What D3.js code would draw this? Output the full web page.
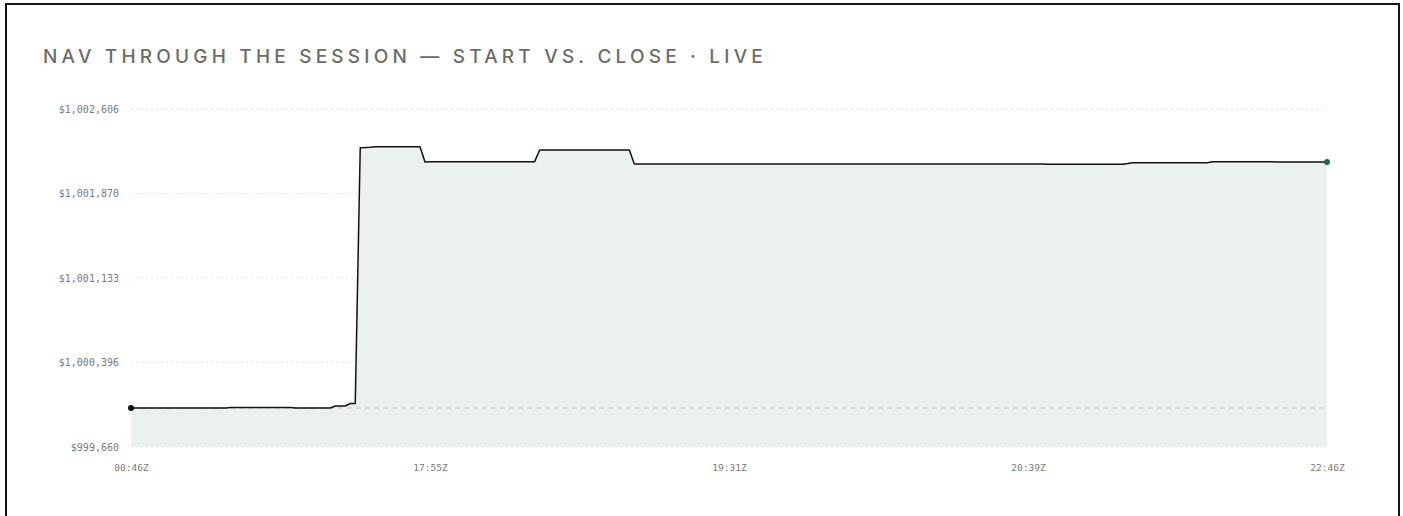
<!DOCTYPE html>
<html>
<head>
<meta charset="utf-8">
<script src="https://cdn.jsdelivr.net/npm/d3@7"></script>
<style>
    body { margin: 0; background: #fff; }
    #card {
        position: absolute; left: 5px; top: 3px;
        width: 1391px; height: 600px;
        border: 2px solid #151515;
    }
    #drawing_region { position: absolute; left: 0; top: 0; }
</style>
</head>
<body>
<div id="card"></div>
<svg id="drawing_region"></svg>
<script>
const titleText = "NAV THROUGH THE SESSION \u2014 START VS. CLOSE \u00b7 LIVE";

// y axis
const yDomain = [999660, 1002606];
const yTicks = [999660, 1000396, 1001133, 1001870, 1002606];

// x axis: sample index -> time label
const xTickIndex = [0, 60, 120, 180, 240];
const xTickLabels = ["00:46Z", "17:55Z", "19:31Z", "20:39Z", "22:46Z"];

// NAV samples through the session
const navValues = [
    1000000,1000000,1000000,1000000,1000000,1000000,1000000,1000000,1000000,1000000,
    1000000,1000000,1000000,1000000,1000000,1000000,1000000,1000000,1000000,1000000,
    1000004,1000004,1000004,1000004,1000004,1000004,1000004,1000004,1000004,1000004,
    1000004,1000004,1000004,1000000,1000000,1000000,1000000,1000000,1000000,1000000,
    1000000,1000017,1000017,1000017,1000039,1000039,1002268,1002270,1002273,1002277,
    1002277,1002277,1002277,1002277,1002277,1002277,1002277,1002277,1002277,1002145,
    1002147,1002147,1002147,1002147,1002147,1002147,1002147,1002147,1002147,1002147,
    1002147,1002147,1002147,1002147,1002147,1002147,1002147,1002147,1002147,1002147,
    1002147,1002147,1002249,1002249,1002249,1002249,1002249,1002249,1002249,1002249,
    1002249,1002249,1002249,1002249,1002249,1002249,1002249,1002249,1002249,1002249,
    1002249,1002127,1002127,1002127,1002127,1002127,1002127,1002127,1002127,1002127,
    1002127,1002127,1002127,1002127,1002127,1002127,1002127,1002127,1002127,1002127,
    1002127,1002127,1002127,1002127,1002127,1002127,1002127,1002127,1002127,1002127,
    1002127,1002127,1002127,1002127,1002127,1002127,1002127,1002127,1002127,1002127,
    1002127,1002127,1002127,1002127,1002127,1002127,1002127,1002127,1002127,1002127,
    1002127,1002127,1002127,1002127,1002127,1002127,1002127,1002127,1002127,1002127,
    1002127,1002127,1002127,1002127,1002127,1002127,1002127,1002127,1002127,1002127,
    1002127,1002127,1002127,1002127,1002127,1002127,1002127,1002127,1002127,1002127,
    1002127,1002127,1002127,1002127,1002124,1002124,1002124,1002124,1002124,1002124,
    1002124,1002124,1002124,1002124,1002124,1002124,1002124,1002124,1002124,1002124,
    1002130,1002138,1002138,1002138,1002138,1002138,1002138,1002138,1002138,1002138,
    1002138,1002138,1002138,1002138,1002138,1002138,1002138,1002147,1002147,1002147,
    1002147,1002147,1002147,1002147,1002147,1002147,1002147,1002147,1002147,1002147,
    1002143,1002143,1002143,1002143,1002143,1002143,1002143,1002143,1002143,1002143,
    1002143
];

class NavChart {

    constructor( config, data ) {
        this.config = config;
        this.data = data;
        this.init();
    }

    init() {
        let self = this;
        const m = self.config.margin;

        self.svg = d3.select( self.config.parent )
            .attr('width', self.config.width)
            .attr('height', self.config.height);

        self.inner_width = self.config.width - m.left - m.right;
        self.inner_height = self.config.height - m.top - m.bottom;

        self.svg.append('text')
            .attr('x', 43)
            .attr('y', 63)
            .attr('fill', '#6d6d66')
            .attr('font-family', 'Inter, "Noto Sans", sans-serif')
            .attr('font-size', '19px')
            .attr('font-weight', 500)
            .attr('letter-spacing', '4.2px')
            .text(titleText);

        self.chart = self.svg.append('g')
            .attr('transform', `translate(${m.left}, ${m.top})`);

        self.xscale = d3.scaleLinear()
            .domain([0, self.data.length - 1])
            .range([0, self.inner_width]);

        self.yscale = d3.scaleLinear()
            .domain(yDomain)
            .range([self.inner_height, 0]);
    }

    render() {
        let self = this;
        const xs = self.xscale, ys = self.yscale;
        const mono = '"DejaVu Sans Mono", monospace';

        // grid
        self.chart.append('g').selectAll('line')
            .data(yTicks)
            .join('line')
            .attr('x1', 0).attr('x2', self.inner_width)
            .attr('y1', d => ys(d)).attr('y2', d => ys(d))
            .attr('stroke', '#e2e2e2')
            .attr('stroke-dasharray', '2,3');

        // area under the line
        const area = d3.area()
            .x( (d, i) => xs(i) )
            .y0( ys(yDomain[0]) )
            .y1( d => ys(d) );
        self.chart.append('path')
            .datum(self.data)
            .attr('d', area)
            .attr('fill', '#ebf1ec');

        // start value reference
        const startNav = self.data[0];
        self.chart.append('line')
            .attr('x1', 0).attr('x2', self.inner_width)
            .attr('y1', ys(startNav)).attr('y2', ys(startNav))
            .attr('stroke', '#c4c4c4')
            .attr('stroke-dasharray', '5,4');

        const line = d3.line()
            .x( (d, i) => xs(i) )
            .y( d => ys(d) );
        self.chart.append('path')
            .datum(self.data)
            .attr('d', line)
            .attr('fill', 'none')
            .attr('stroke', '#111')
            .attr('stroke-width', 1.5)
            .attr('stroke-linejoin', 'round');

        const last = self.data.length - 1;
        self.chart.append('circle')
            .attr('cx', xs(0)).attr('cy', ys(self.data[0]))
            .attr('r', 3).attr('fill', '#111');
        self.chart.append('circle')
            .attr('cx', xs(last)).attr('cy', ys(self.data[last]))
            .attr('r', 3).attr('fill', '#1d6b3c');

        // axes
        const yaxis = d3.axisLeft(ys)
            .tickValues(yTicks)
            .tickFormat(d3.format('$,.0f'))
            .tickSize(0)
            .tickPadding(12);
        const yg = self.chart.append('g').call(yaxis);
        yg.select('.domain').remove();
        yg.selectAll('text')
            .attr('fill', '#7a7a7a')
            .attr('font-family', mono)
            .attr('font-size', '10px');

        const xaxis = d3.axisBottom(xs)
            .tickValues(xTickIndex)
            .tickFormat( (d, i) => xTickLabels[i] )
            .tickSize(0)
            .tickPadding(17);
        const xg = self.chart.append('g')
            .attr('transform', `translate(0, ${self.inner_height})`)
            .call(xaxis);
        xg.select('.domain').remove();
        xg.selectAll('text')
            .attr('fill', '#7a7a7a')
            .attr('font-family', mono)
            .attr('font-size', '9.5px');
    }
}

var config = {
    parent: '#drawing_region',
    width: 1403,
    height: 516,
    margin: {top: 109, right: 76, bottom: 69, left: 131}
};

const nav_chart = new NavChart( config, navValues );
nav_chart.render();
</script>
</body>
</html>
